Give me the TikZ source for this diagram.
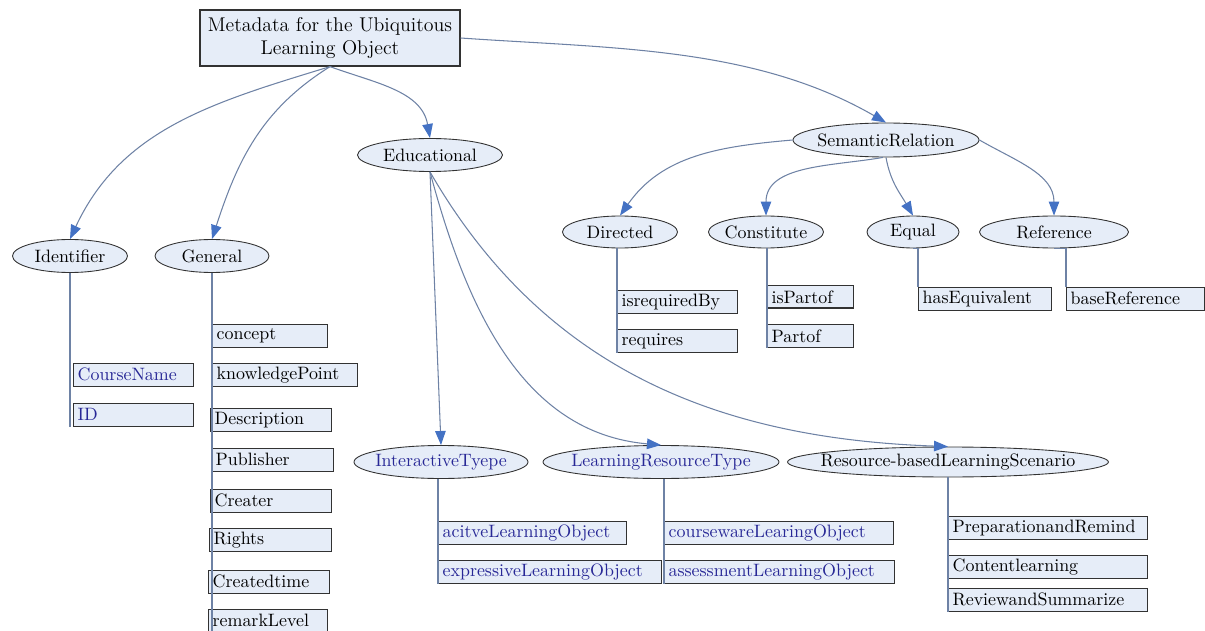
\documentclass[tikz,border=0pt]{standalone}
\usetikzlibrary{shapes.geometric,arrows.meta}

\definecolor{boxfill}{RGB}{230,237,248}
\definecolor{boxline}{RGB}{50,50,50}
\definecolor{edgecol}{RGB}{110,130,165}
\definecolor{tipcol}{RGB}{68,114,196}
\definecolor{txtblue}{RGB}{40,40,150}

\tikzset{
  rootbox/.style={draw=boxline, fill=boxfill, line width=0.7pt, minimum width=5.2cm, minimum height=1.12cm, align=center, font=\fontsize{11.3}{13.5}\selectfont},
  oval/.style={ellipse, draw=boxline, fill=boxfill, line width=0.5pt, inner xsep=-0.35cm, inner ysep=0pt, minimum height=0.66cm, font=\fontsize{10.2}{12}\selectfont},
  leaf/.style={draw=boxline, fill=boxfill, line width=0.7pt, anchor=north west, minimum height=0.45cm, inner xsep=0.08cm, inner ysep=0pt, align=left, font=\fontsize{10.2}{12}\selectfont},
  link/.style={draw=edgecol, line width=0.6pt, -{Triangle[length=8pt,width=6pt,color=tipcol]}},
  stem/.style={draw=edgecol, line width=0.6pt}
}

\begin{document}
\begin{tikzpicture}
\useasboundingbox (0,0) rectangle (24.1,-12.62);

% root
\node[rootbox] (meta) at (6.60,-0.76) {Metadata for the Ubiquitous\\Learning Object};

% first level
\node[oval, minimum width=2.30cm] (ident) at (1.40,-5.12) {Identifier};
\node[oval, minimum width=2.28cm] (general) at (4.24,-5.12) {General};
\node[oval, minimum width=2.90cm] (edu) at (8.60,-3.10) {Educational};
\node[oval, minimum width=3.72cm, minimum height=0.68cm] (semrel) at (17.72,-2.80) {SemanticRelation};

% semantic relations
\node[oval, minimum width=2.30cm, minimum height=0.64cm] (directed) at (12.40,-4.64) {Directed};
\node[oval, minimum width=2.30cm, minimum height=0.64cm] (constitute) at (15.32,-4.64) {Constitute};
\node[oval, minimum width=1.84cm, minimum height=0.64cm] (equal) at (18.26,-4.64) {Equal};
\node[oval, minimum width=2.98cm, minimum height=0.64cm] (reference) at (21.08,-4.64) {Reference};

% educational
\node[oval, minimum width=3.48cm, text=txtblue] (itype) at (8.82,-9.24) {InteractiveTyepe};
\node[oval, minimum width=4.72cm, text=txtblue] (lrt) at (13.22,-9.24) {LearningResourceType};
\node[oval, minimum width=6.42cm, minimum height=0.60cm] (rbls) at (18.96,-9.24) {Resource-basedLearningScenario};

% leaves of Identifier
\node[leaf, text width=2.24cm, text=txtblue] (cname) at (1.46,-7.26) {CourseName};
\node[leaf, text width=2.24cm, text=txtblue] (id) at (1.46,-8.06) {ID};

% leaves of General
\node[leaf, text width=2.14cm] (concept) at (4.24,-6.48) {concept};
\node[leaf, text width=2.74cm] (kpoint) at (4.24,-7.26) {knowledgePoint};
\node[leaf, text width=2.26cm] (descr) at (4.20,-8.16) {Description};
\node[leaf, text width=2.28cm] (publisher) at (4.22,-8.96) {Publisher};
\node[leaf, text width=2.26cm] (creater) at (4.20,-9.78) {Creater};
\node[leaf, text width=2.28cm] (rights) at (4.18,-10.56) {Rights};
\node[leaf, text width=2.26cm] (ctime) at (4.16,-11.40) {Createdtime};
\node[leaf, text width=2.22cm] (remark) at (4.16,-12.18) {remarkLevel};

% leaves of the relations
\node[leaf, text width=2.24cm] (isreq) at (12.34,-5.80) {isrequiredBy};
\node[leaf, text width=2.24cm] (requires) at (12.34,-6.58) {requires};
\node[leaf, text width=1.56cm] (ispartof) at (15.34,-5.70) {isPartof};
\node[leaf, text width=1.56cm] (partof) at (15.34,-6.48) {Partof};
\node[leaf, text width=2.50cm] (haseq) at (18.36,-5.74) {hasEquivalent};
\node[leaf, text width=2.60cm] (baseref) at (21.32,-5.74) {baseReference};

% leaves of the educational types
\node[leaf, text width=3.60cm, text=txtblue] (active) at (8.76,-10.42) {acitveLearningObject};
\node[leaf, text width=4.30cm, text=txtblue] (expressive) at (8.76,-11.20) {expressiveLearningObject};
\node[leaf, text width=4.42cm, text=txtblue] (courseware) at (13.28,-10.42) {coursewareLearingObject};
\node[leaf, text width=4.44cm, text=txtblue] (assessment) at (13.28,-11.20) {assessmentLearningObject};
\node[leaf, text width=3.82cm] (prep) at (18.96,-10.32) {PreparationandRemind};
\node[leaf, text width=3.82cm] (content) at (18.96,-11.10) {Contentlearning};
\node[leaf, text width=3.82cm] (review) at (18.96,-11.76) {ReviewandSummarize};

% arrows
\draw[link] (meta.south) to[out=197, in=65] (ident.north);
\draw[link] (meta.south) to[out=212, in=72] (general.north);
\draw[link] (meta.south) to[out=340, in=100] (edu.north);
\draw[link] (meta.east) to[out=-4, in=150, looseness=0.9] (semrel.north);
\draw[link] (semrel.west) to[out=185, in=55] (directed.north);
\draw[link] (semrel.260) to[out=190, in=90] (constitute.north);
\draw[link] (semrel.south) to[out=-80, in=120] (equal.north);
\draw[link] (semrel.east) to[out=-30, in=90] (reference.north);
\draw[link] (edu.south) -- (itype.north);
\draw[link] (edu.south) to[out=-75, in=175] (lrt.north);
\draw[link] (edu.south) to[out=-60, in=178] (rbls.north);

% stems to the leaves
\draw[stem] (ident.south) -- (ident.south |- id.south);
\draw[stem] (general.south) -- (general.south |- remark.south);
\draw[stem] (directed.south -| isreq.west) -- (requires.south west);
\draw[stem] (constitute.south -| ispartof.west) -- (partof.south west);
\draw[stem] (equal.south) -| (haseq.north west);
\draw[stem] (reference.south) -| (baseref.north west);
\draw[stem] (itype.south -| active.west) -- (expressive.south west);
\draw[stem] (lrt.south -| courseware.west) -- (assessment.south west);
\draw[stem] (rbls.south -| prep.west) -- (review.south west);

\end{tikzpicture}
\end{document}
